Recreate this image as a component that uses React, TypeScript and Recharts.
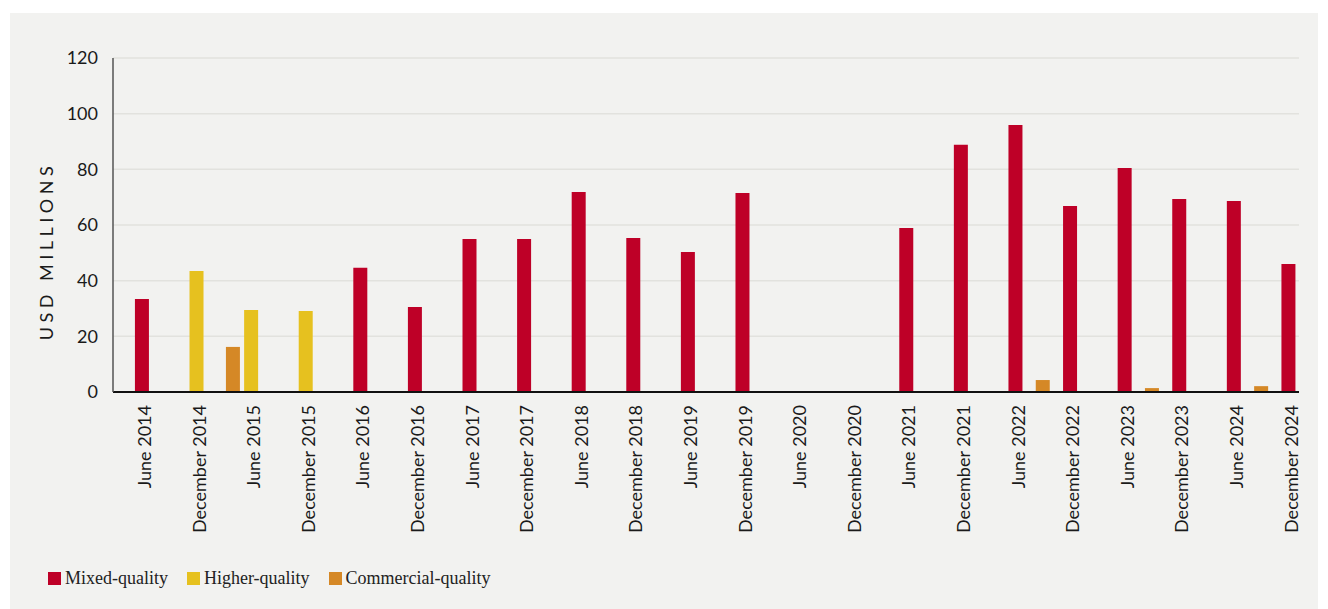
import { BarChart, Bar, CartesianGrid, XAxis, YAxis } from 'recharts';

const MONTHS = ['January', 'February', 'March', 'April', 'May', 'June', 'July', 'August', 'September', 'October', 'November', 'December'];

const PERIODS = [
  'June 2014', 'December 2014', 'June 2015', 'December 2015', 'June 2016', 'December 2016',
  'June 2017', 'December 2017', 'June 2018', 'December 2018', 'June 2019', 'December 2019',
  'June 2020', 'December 2020', 'June 2021', 'December 2021', 'June 2022', 'December 2022',
  'June 2023', 'December 2023', 'June 2024', 'December 2024',
];

const MIXED = [33.4, null, null, null, 44.6, 30.5, 55.0, 55.0, 71.9, 55.3, 50.3, 71.5, 0, 0, 58.9, 88.8, 95.9, 66.8, 80.5, 69.3, 68.6, 46.0];
const HIGHER = [null, 43.5, 29.5, 29.1, null, null, null, null, null, null, null, null, null, null, null, null, null, null, null, null, null, null];

const COMMERCIAL_PERIODS = ['April 2015', 'September 2022', 'September 2023', 'September 2024'];
const COMMERCIAL = [16.2, 4.3, 1.4, 2.1];

const Y_TICKS = [0, 20, 40, 60, 80, 100, 120];

const COLORS = {
  mixed: '#be0027',
  higher: '#e6c11f',
  commercial: '#d58826',
};

// months since June 2014
const monthIndex = (label: string) => {
  const [name, year] = label.split(' ');
  return (Number(year) - 2014) * 12 + MONTHS.indexOf(name) - 5;
};

const LABEL_BY_MONTH: Record<number, string> = {};
PERIODS.forEach((p) => { LABEL_BY_MONTH[monthIndex(p)] = p; });

const rows = [
  ...PERIODS.map((p, i) => ({ m: monthIndex(p), mixed: MIXED[i], higher: HIGHER[i] })),
  ...COMMERCIAL_PERIODS.map((p, i) => ({ m: monthIndex(p), commercial: COMMERCIAL[i] })),
].sort((a, b) => a.m - b.m);

const X_TICKS = PERIODS.map(monthIndex);

const XTick = ({ x, y, payload }: any) => {
  const tx = x + 9;
  const ty = y + 13;
  return (
    <text
      x={tx}
      y={ty}
      transform={`rotate(-90 ${tx} ${ty})`}
      textAnchor="end"
      fontFamily="Lato"
      fontSize={18}
      fill="#1a1a1a"
    >
      {LABEL_BY_MONTH[payload.value]}
    </text>
  );
};

const YLabel = () => (
  <text
    x={46}
    y={251}
    transform="rotate(-90 46 251)"
    textAnchor="middle"
    dominantBaseline="central"
    fontFamily="Lato"
    fontSize={18}
    letterSpacing={4.5}
    fill="#1a1a1a"
  >
    USD MILLIONS
  </text>
);

const LEGEND = [
  { name: 'Mixed-quality', color: COLORS.mixed },
  { name: 'Higher-quality', color: COLORS.higher },
  { name: 'Commercial-quality', color: COLORS.commercial },
];

export default function App() {
  return (
    <div style={{ position: 'absolute', left: 0, top: 0, width: 1328, height: 609, background: '#ffffff' }}>
      <div style={{ position: 'absolute', left: 10, top: 13, width: 1308, height: 596, background: '#f2f2f0' }} />
      <div style={{ position: 'absolute', left: 0, top: 0 }}>
        <BarChart width={1328} height={609} data={rows} margin={{ top: 58, right: 29, left: 53, bottom: 67 }}>
          <CartesianGrid vertical={false} stroke="#e2e2de" strokeWidth={1.5} />
          <XAxis
            dataKey="m"
            type="number"
            domain={[-3.19, 127.15]}
            allowDataOverflow
            ticks={X_TICKS}
            interval={0}
            height={150}
            tickSize={0}
            tickMargin={0}
            tickLine={false}
            axisLine={{ stroke: '#111111', strokeWidth: 2 }}
            tick={<XTick />}
          />
          <YAxis
            domain={[0, 120]}
            ticks={Y_TICKS}
            width={60}
            tickSize={0}
            tickMargin={15}
            tickLine={false}
            axisLine={{ stroke: '#555555', strokeWidth: 1.5 }}
            tick={{ fontFamily: 'Lato', fontSize: 18, fill: '#1a1a1a' }}
            label={{ content: () => <YLabel /> }}
          />
          <Bar dataKey="mixed" stackId="a" fill={COLORS.mixed} barSize={14} isAnimationActive={false} />
          <Bar dataKey="higher" stackId="a" fill={COLORS.higher} barSize={14} isAnimationActive={false} />
          <Bar dataKey="commercial" stackId="a" fill={COLORS.commercial} barSize={14} isAnimationActive={false} />
        </BarChart>
      </div>
      <div style={{ position: 'absolute', left: 48, top: 569, display: 'flex', alignItems: 'center', fontFamily: '"Liberation Serif", serif', fontSize: 18, color: '#222222', lineHeight: 1 }}>
        {LEGEND.map((l) => (
          <div key={l.name} style={{ display: 'flex', alignItems: 'center', marginRight: 19 }}>
            <span style={{ display: 'inline-block', width: 13, height: 13, background: l.color, marginRight: 4 }} />
            <span>{l.name}</span>
          </div>
        ))}
      </div>
    </div>
  );
}
